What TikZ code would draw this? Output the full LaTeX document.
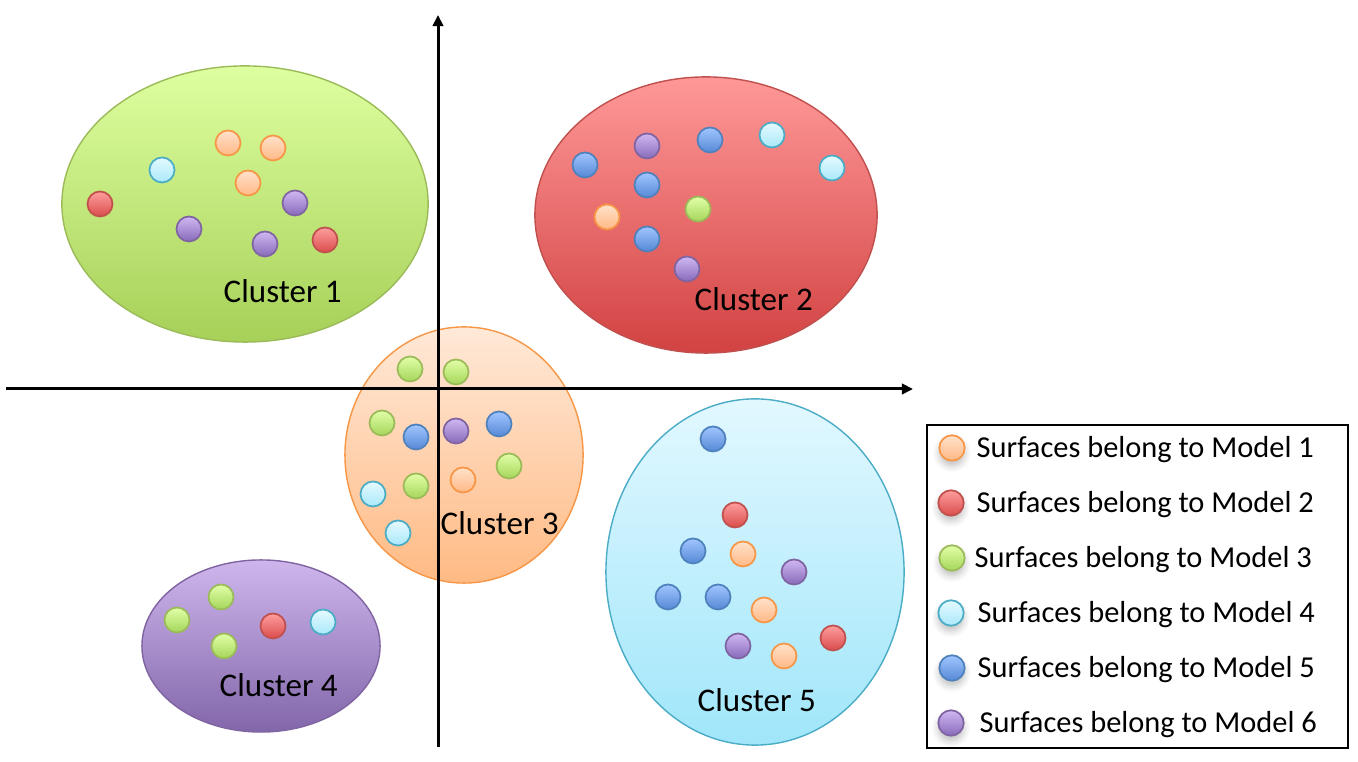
\documentclass[tikz,border=0pt]{standalone}
\usepackage{fontspec}
\setmainfont{Carlito}
\usepackage{tikz}
\usetikzlibrary{arrows.meta,shadows.blur}
% cluster fills and borders
\definecolor{grassT}{RGB}{222, 255, 160}
\definecolor{grassB}{RGB}{166, 208,  88}
\definecolor{grassE}{RGB}{155, 187,  89}
\definecolor{alizarinT}{RGB}{255, 152, 152}
\definecolor{alizarinB}{RGB}{210,  66,  66}
\definecolor{alizarinE}{RGB}{192,  80,  77}
\definecolor{carrotT}{RGB}{255, 233, 216}
\definecolor{carrotB}{RGB}{255, 186, 132}
\definecolor{carrotE}{RGB}{247, 150,  70}
\definecolor{amethystT}{RGB}{206, 182, 236}
\definecolor{amethystB}{RGB}{130, 102, 170}
\definecolor{amethystE}{RGB}{128, 100, 162}
\definecolor{skyT}{RGB}{226, 248, 255}
\definecolor{skyB}{RGB}{160, 230, 250}
\definecolor{skyE}{RGB}{ 75, 172, 198}
% surface dots
\definecolor{orangeT}{RGB}{255, 226, 202}
\definecolor{orangeB}{RGB}{255, 184, 134}
\definecolor{redT}{RGB}{255, 158, 158}
\definecolor{redB}{RGB}{218,  76,  76}
\definecolor{greenT}{RGB}{226, 255, 168}
\definecolor{greenB}{RGB}{164, 214,  90}
\definecolor{cyanT}{RGB}{228, 250, 255}
\definecolor{cyanB}{RGB}{170, 232, 250}
\definecolor{blueT}{RGB}{160, 198, 255}
\definecolor{blueB}{RGB}{ 86, 136, 214}
\definecolor{blueE}{RGB}{ 79, 129, 189}
\definecolor{purpleT}{RGB}{208, 184, 242}
\definecolor{purpleB}{RGB}{136, 106, 186}

\begin{document}
\begin{tikzpicture}[x=0.01cm, y=-0.01cm,
    m1/.style={top color=orangeT, bottom color=orangeB, draw=carrotE,    line width=0.5pt},
    m2/.style={top color=redT,    bottom color=redB,    draw=alizarinE,  line width=0.5pt},
    m3/.style={top color=greenT,  bottom color=greenB,  draw=grassE,     line width=0.5pt},
    m4/.style={top color=cyanT,   bottom color=cyanB,   draw=skyE,       line width=0.5pt},
    m5/.style={top color=blueT,   bottom color=blueB,   draw=blueE,      line width=0.5pt},
    m6/.style={top color=purpleT, bottom color=purpleB, draw=amethystE,  line width=0.5pt},
    lbl/.style={anchor=base west, inner sep=0pt, font=\fontsize{9.4}{11}\selectfont},
    legtxt/.style={anchor=base west, inner sep=0pt, font=\fontsize{8.65}{10}\selectfont},
    shd/.style={blur shadow={shadow xshift=0pt, shadow yshift=-1.5pt, shadow blur steps=5, shadow opacity=25}}]
            \useasboundingbox (0,0) rectangle (1358,762);
            % Clusters
            \draw[top color=grassT,    bottom color=grassB,    draw=grassE,    line width=0.4pt] (245,204) ellipse [x radius=1.83cm, y radius=1.38cm];
            \draw[top color=alizarinT, bottom color=alizarinB, draw=alizarinE, line width=0.4pt] (706,215) ellipse [x radius=1.71cm, y radius=1.38cm];
            \draw[top color=carrotT,   bottom color=carrotB,   draw=carrotE,   line width=0.4pt] (464,455) ellipse [x radius=1.19cm, y radius=1.28cm];
            \draw[top color=amethystT, bottom color=amethystB, draw=amethystE, line width=0.4pt] (261,646) ellipse [x radius=1.19cm, y radius=0.86cm];
            \draw[top color=skyT,      bottom color=skyB,      draw=skyE,      line width=0.4pt] (755,572) ellipse [x radius=1.49cm, y radius=1.73cm];
            % Axes
            \coordinate (xs) at (6,389);
            \coordinate (xe) at (913,389);
            \coordinate (ys) at (438,747);
            \coordinate (ye) at (438,15);
            \draw[line width=0.85pt, -{Triangle[length=3.2pt, width=3pt]}] (xs) -- (xe);
            \draw[line width=0.85pt, -{Triangle[length=3.2pt, width=3pt]}] (ys) -- (ye);
            % Cluster 1
            \draw[m1] (228,143) circle (0.125cm);
            \draw[m1] (273,148) circle (0.125cm);
            \draw[m4] (162,170) circle (0.125cm);
            \draw[m1] (248,183) circle (0.125cm);
            \draw[m2] (100,204) circle (0.125cm);
            \draw[m6] (295,203) circle (0.125cm);
            \draw[m6] (189,229) circle (0.125cm);
            \draw[m6] (265,244) circle (0.125cm);
            \draw[m2] (325,240) circle (0.125cm);
            % Cluster 2
            \draw[m5] (585,165) circle (0.125cm);
            \draw[m6] (647,146) circle (0.125cm);
            \draw[m5] (710,140) circle (0.125cm);
            \draw[m4] (772,135) circle (0.125cm);
            \draw[m4] (832,168) circle (0.125cm);
            \draw[m5] (647,185) circle (0.125cm);
            \draw[m1] (607,217) circle (0.125cm);
            \draw[m3] (698,209) circle (0.125cm);
            \draw[m5] (647,239) circle (0.125cm);
            \draw[m6] (687,269) circle (0.125cm);
            % Cluster 3
            \draw[m3] (410,369) circle (0.125cm);
            \draw[m3] (456,372) circle (0.125cm);
            \draw[m3] (382,423) circle (0.125cm);
            \draw[m5] (416,437) circle (0.125cm);
            \draw[m6] (456,431) circle (0.125cm);
            \draw[m5] (499,424) circle (0.125cm);
            \draw[m3] (509,466) circle (0.125cm);
            \draw[m3] (416,486) circle (0.125cm);
            \draw[m1] (463,480) circle (0.125cm);
            \draw[m4] (373,494) circle (0.125cm);
            \draw[m4] (398,533) circle (0.125cm);
            % Cluster 4
            \draw[m3] (221,597) circle (0.125cm);
            \draw[m3] (177,620) circle (0.125cm);
            \draw[m3] (224,646) circle (0.125cm);
            \draw[m2] (273,626) circle (0.125cm);
            \draw[m4] (323,622) circle (0.125cm);
            % Cluster 5
            \draw[m5] (713,439) circle (0.125cm);
            \draw[m2] (735,515) circle (0.125cm);
            \draw[m5] (693,551) circle (0.125cm);
            \draw[m1] (743,554) circle (0.125cm);
            \draw[m6] (794,572) circle (0.125cm);
            \draw[m5] (668,597) circle (0.125cm);
            \draw[m5] (718,597) circle (0.125cm);
            \draw[m1] (764,610) circle (0.125cm);
            \draw[m6] (738,646) circle (0.125cm);
            \draw[m1] (784,656) circle (0.125cm);
            \draw[m2] (833,638) circle (0.125cm);
            % Labels
            \node[lbl] (c1) at (223,303) {Cluster 1};
            \node[lbl] (c2) at (694,311) {Cluster 2};
            \node[lbl] (c3) at (440,535) {Cluster 3};
            \node[lbl] (c4) at (219,697) {Cluster 4};
            \node[lbl] (c5) at (697,712) {Cluster 5};
            % Legend
            \draw[line width=0.4pt] (927,425) rectangle (1348,748);
            \draw[m1, shd] (952,448) circle (0.127cm);
            \draw[m2, shd] (951,503) circle (0.127cm);
            \draw[m3, shd] (952,558) circle (0.127cm);
            \draw[m4, shd] (951,613) circle (0.127cm);
            \draw[m5, shd] (952,668) circle (0.127cm);
            \draw[m6, shd] (951,723) circle (0.127cm);
            \node[legtxt] (l1) at (976,458) {Surfaces belong to Model 1};
            \node[legtxt] (l2) at (976,513) {Surfaces belong to Model 2};
            \node[legtxt] (l3) at (974,568) {Surfaces belong to Model 3};
            \node[legtxt] (l4) at (977,623) {Surfaces belong to Model 4};
            \node[legtxt] (l5) at (977,678) {Surfaces belong to Model 5};
            \node[legtxt] (l6) at (979,733) {Surfaces belong to Model 6};
\end{tikzpicture}
\end{document}
